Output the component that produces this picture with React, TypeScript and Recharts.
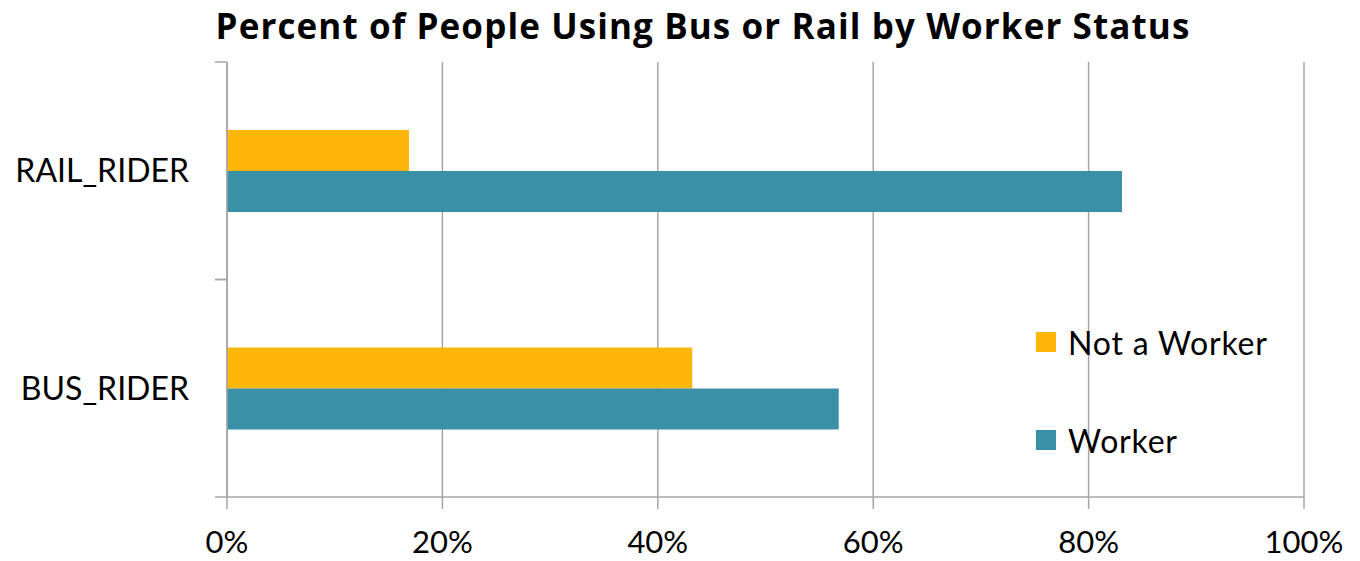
import { BarChart, Bar, XAxis, YAxis, CartesianGrid, Legend } from "recharts";

// values (percent of riders)
const categories = ["RAIL_RIDER", "BUS_RIDER"];
const notWorker = [16.9, 43.2];
const worker = [83.1, 56.8];
const xTicks = [0, 20, 40, 60, 80, 100];

const ORANGE = "#FFB60B";
const TEAL = "#3A91A7";
const GRID = "#A6A6A6";
const FONT = "Lato, 'Open Sans', sans-serif";

const TICK_SIZE = 12;
const TICK_MARGIN = 26;

const data = categories.map((name, i) => ({
  name,
  notWorker: notWorker[i],
  worker: worker[i],
}));

// category label plus the short tick marks at the band edges
const CategoryTick = (props: any) => {
  const { x, y, payload } = props;
  const axisX = x + TICK_SIZE + TICK_MARGIN;
  const half = payload.offset || 0;
  return (
    <g>
      <text x={x} y={y} dy="0.355em" textAnchor="end" fill="#000" fontSize={32} fontFamily={FONT}>
        {payload.value}
      </text>
      <line x1={axisX - TICK_SIZE} x2={axisX} y1={y - half} y2={y - half} stroke={GRID} strokeWidth={1.5} />
      <line x1={axisX - TICK_SIZE} x2={axisX} y1={y + half} y2={y + half} stroke={GRID} strokeWidth={1.5} />
    </g>
  );
};

// legend drawn as two stacked rows inside the plot area
const renderLegend = (props: any) => {
  const items = props.payload || [];
  return (
    <div style={{ fontFamily: FONT, fontSize: 32, letterSpacing: 0.8, color: "#000", textAlign: "left" }}>
      {items.map((item: any, i: number) => (
        <div
          key={item.value}
          style={{ display: "flex", alignItems: "center", height: 40, marginTop: i === 0 ? 0 : 58 }}
        >
          <span style={{ width: 20, height: 20, background: item.color, display: "inline-block", marginRight: 12 }} />
          <span>{item.value}</span>
        </div>
      ))}
    </div>
  );
};

export default function App() {
  return (
    <div style={{ position: "absolute", left: 0, top: 0, width: 1360, height: 561, background: "#fff" }}>
      <div
        style={{
          position: "absolute",
          left: 203,
          top: 2,
          width: 1000,
          textAlign: "center",
          fontFamily: "'Open Sans', sans-serif",
          fontWeight: 700,
          fontSize: 35,
          letterSpacing: 1.1,
          whiteSpace: "nowrap",
          color: "#000",
        }}
      >
        Percent of People Using Bus or Rail by Worker Status
      </div>
      <BarChart
        width={1360}
        height={561}
        data={data}
        layout="vertical"
        margin={{ top: 62, right: 56, bottom: 0, left: 0 }}
        barSize={41}
        barGap={0}
      >
        <CartesianGrid horizontal={false} stroke={GRID} strokeWidth={1.5} />
        <XAxis
          type="number"
          domain={[0, 100]}
          ticks={xTicks}
          tickFormatter={(v) => `${v}%`}
          height={64}
          tickSize={12}
          tickMargin={22}
          stroke={GRID}
          strokeWidth={1.5}
          tick={{ fill: "#000", fontSize: 31, fontFamily: FONT }}
        />
        <YAxis
          type="category"
          dataKey="name"
          width={227}
          tickLine={false}
          tickSize={TICK_SIZE}
          tickMargin={TICK_MARGIN}
          stroke={GRID}
          strokeWidth={1.5}
          tick={<CategoryTick />}
        />
        <Legend
          layout="horizontal"
          verticalAlign="middle"
          align="center"
          content={renderLegend}
          wrapperStyle={{ left: 1036, top: 322, width: 320 }}
        />
        <Bar dataKey="notWorker" name="Not a Worker" fill={ORANGE} isAnimationActive={false} />
        <Bar dataKey="worker" name="Worker" fill={TEAL} isAnimationActive={false} />
      </BarChart>
    </div>
  );
}
